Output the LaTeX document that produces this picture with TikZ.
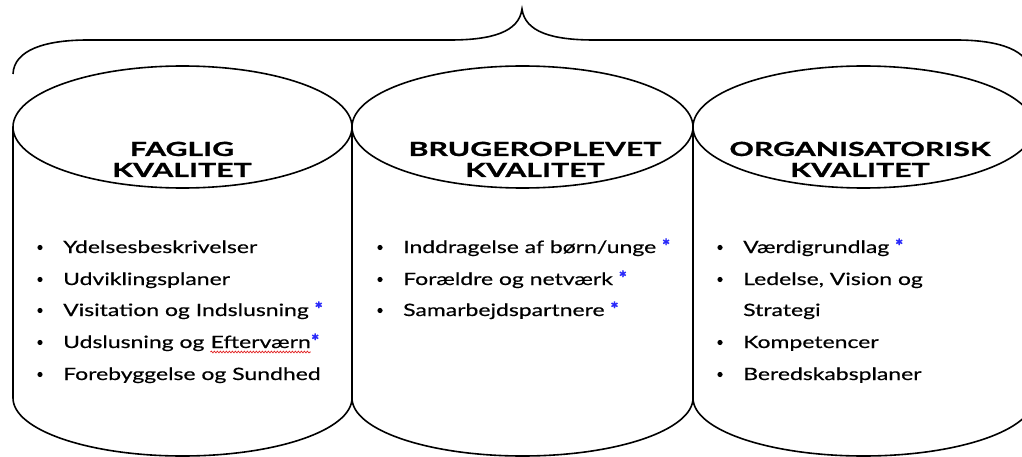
\documentclass[tikz,border=0pt]{standalone}
\usepackage{fontspec}
\usetikzlibrary{decorations.pathmorphing}
\newfontfamily\bodyfont{Lato}[FakeStretch=1.35, FakeBold=0.45]
\newfontfamily\headfont{Lato}[FakeStretch=1.55, FakeBold=1.0]
\newfontfamily\starfont{Lato}[FakeBold=1.6]
\definecolor{starblue}{RGB}{40,40,250}
\definecolor{spellred}{RGB}{225,30,30}
\newcommand{\bstar}{{\starfont\color{starblue}\bfseries\fontsize{19}{20}\selectfont*}}
\tikzset{
  outline/.style={line width=1.6pt, draw=black},
  headline/.style={font=\headfont\bfseries\fontsize{19.5}{21}\selectfont, inner sep=0pt, anchor=base},
  itemtext/.style={font=\bodyfont\fontsize{17}{20}\selectfont, inner sep=0pt, anchor=base west},
  dot/.style={fill=black},
}
% one cylinder: centre x, half width, top centre y, bottom centre y
\newcommand{\drum}[4]{%
  \draw[outline] (#1,#3) ellipse [x radius=#2, y radius=61];
  \draw[outline] (#1-#2,#3) -- (#1-#2,#4)
    arc [start angle=180, end angle=360, x radius=#2, y radius=-58]
    -- (#1+#2,#3);
}
% bullet to the left of an item
\newcommand{\bul}[1]{\fill[dot] (#1.base west) ++(-23,-5.5) circle (2.6);}
\begin{document}
\begin{tikzpicture}[x=1pt,y=-1pt]
\useasboundingbox (0,0) rectangle (1022,457);
\clip (0,0) rectangle (1022,457);
\fill[white] (0,0) rectangle (1022,457);

% the three cylinders
\drum{182.5}{169.5}{127}{398}
\drum{522.5}{170.5}{127}{398}
\drum{863.5}{170.5}{127}{398}

% curly brace over all three
\draw[outline]
  (13,74) .. controls (14,50) and (45,40) .. (88,40)
  -- (450,40) .. controls (492,40) and (519,32) .. (522,9)
  .. controls (525,32) and (552,40) .. (594,40)
  -- (956,40) .. controls (999,40) and (1030,50) .. (1031,74);

% headings
\node[headline] (h1a) at (182,156) {FAGLIG};
\node[headline] (h1b) at (182,177) {KVALITET};
\node[headline] (h2a) at (535,156) {BRUGEROPLEVET};
\node[headline] (h2b) at (535,177) {KVALITET};
\node[headline] (h3a) at (860,156) {ORGANISATORISK};
\node[headline] (h3b) at (860,177) {KVALITET};

% first column
\node[itemtext] (f1) at (63,253) {Ydelsesbeskrivelser};
\node[itemtext] (f2) at (63,285) {Udviklingsplaner};
\node[itemtext] (f3) at (63,316) {Visitation og Indslusning \bstar};
\node[itemtext] (f4a) at (63,348) {Udslusning og\ \null};
\node[itemtext] (f4b) at (f4a.base east) {Efterværn};
\node[itemtext] (f4c) at (f4b.base east) {\bstar};
\node[itemtext] (f5) at (63,380) {Forebyggelse og Sundhed};
\bul{f1}\bul{f2}\bul{f3}\bul{f4a}\bul{f5}
\draw[spellred, line width=0.7pt, decorate,
      decoration={snake, amplitude=0.9pt, segment length=3pt}]
  ([yshift=-4pt]f4b.base west) -- ([yshift=-4pt]f4b.base east);

% second column
\node[itemtext] (b1) at (403,253) {Inddragelse af børn/unge \bstar};
\node[itemtext] (b2) at (403,285) {Forældre og netværk \bstar};
\node[itemtext] (b3) at (403,316) {Samarbejdspartnere \bstar};
\bul{b1}\bul{b2}\bul{b3}

% third column
\node[itemtext] (o1) at (743,253) {Værdigrundlag \bstar};
\node[itemtext] (o2) at (743,285) {Ledelse, Vision og};
\node[itemtext] (o2b) at (743,316) {Strategi};
\node[itemtext] (o3) at (743,348) {Kompetencer};
\node[itemtext] (o4) at (743,380) {Beredskabsplaner};
\bul{o1}\bul{o2}\bul{o3}\bul{o4}
\end{tikzpicture}
\end{document}
